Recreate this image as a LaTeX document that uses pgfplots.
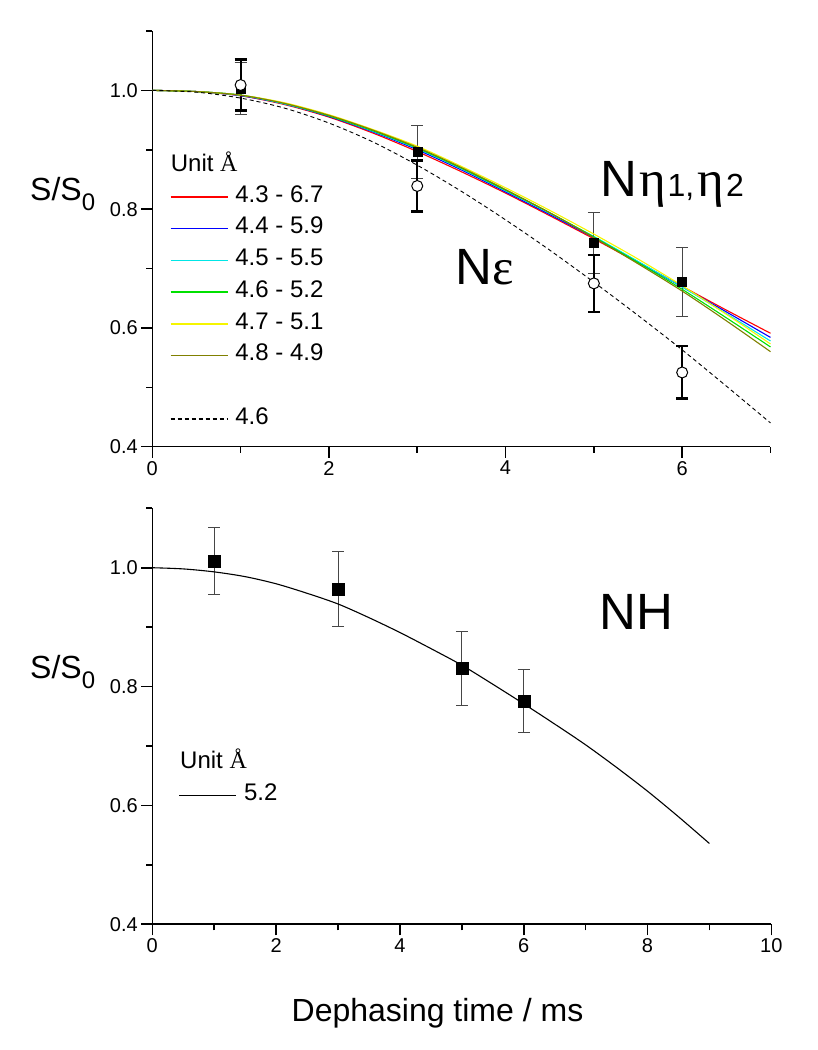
\documentclass[border=0pt]{standalone}
\usepackage{pgfplots}
\pgfplotsset{compat=1.18}
\usepackage{fontspec}
\setmainfont{Liberation Sans}
\newfontfamily\serifgr{Liberation Serif}
\definecolor{cRed}{RGB}{255,0,0}
\definecolor{cBlue}{RGB}{0,0,255}
\definecolor{cCyan}{RGB}{0,230,230}
\definecolor{cGreen}{RGB}{0,225,0}
\definecolor{cYellow}{RGB}{245,245,0}
\definecolor{cOlive}{RGB}{128,128,0}
\definecolor{barGray}{RGB}{70,70,70}
\pgfplotsset{
  myax/.style={
    scale only axis,
    axis x line*=bottom, axis y line*=left,
    axis line style={line width=1.6pt,-},
    tick style={line width=1.6pt,black},
    tick align=outside,
    major tick length=11pt, minor tick length=6pt,
    ymin=0.4, ymax=1.1,
    ytick={0.4,0.6,0.8,1.0},
    minor ytick={0.5,0.7,0.9,1.1},
    ticklabel style={font=\fontsize{20}{24}\selectfont},
    /pgf/number format/assume math mode=true,
    yticklabel style={/pgf/number format/fixed,/pgf/number format/fixed zerofill,/pgf/number format/precision=1},
    clip=false,
    legend cell align=left,
    legend image code/.code={\draw[##1, line width=1.4pt] (0pt,0pt) -- (57pt,0pt);},
    legend style={draw=none, fill=none, inner sep=0pt, outer sep=0pt, row sep=0pt, column sep=7pt,
      font=\fontsize{24}{28}\selectfont, anchor=north west,
      nodes={inner sep=0pt, text height=21pt, text depth=10.7pt}},
  },
  sqbar/.style={only marks, mark=square*, mark size=#1, black, forget plot,
    error bars/.cd, y dir=both, y explicit,
    error bar style={line width=1pt, barGray},
    error mark options={rotate=90, line width=1pt, barGray, mark size=6pt}},
  cibar/.style={only marks, mark=*, mark size=5.5pt, mark options={fill=white, draw=black, line width=1pt}, black, forget plot,
    error bars/.cd, y dir=both, y explicit,
    error bar style={line width=2.2pt, black},
    error mark options={rotate=90, line width=2.2pt, black, mark size=6pt}},
}
\begin{document}
\begin{tikzpicture}[x=1pt,y=1pt]
% ---------------- top panel ----------------
\begin{axis}[myax, at={(152.3pt,603.3pt)}, anchor=south west,
  width=618.2pt, height=415.7pt,
  xmin=0, xmax=7, xtick={0,2,4,6}, minor xtick={1,3,5,7},
  legend style={at={(axis cs:0.2,0.847)}}]
\addplot[sqbar=4.5pt] table[y error=e]{
x y e
1 1.003 0.044
3 0.896 0.045
5 0.743 0.051
6 0.678 0.058
};
\addplot[cibar] table[y error=e]{
x y e
1 1.009 0.043
3 0.839 0.043
5 0.675 0.048
6 0.525 0.044
};
\addplot[cRed, line width=1.1pt, smooth] coordinates {(0,1.000)(0.5,0.998)(1,0.991)(1.5,0.976)(2,0.955)(2.5,0.928)(3,0.897)(3.5,0.863)(4,0.827)(4.5,0.789)(5,0.750)(5.5,0.710)(6,0.670)(6.5,0.630)(7,0.591)};
\addlegendentry{4.3 - 6.7}
\addplot[cBlue, line width=1.1pt, smooth] coordinates {(0,1.000)(0.5,0.998)(1,0.991)(1.5,0.977)(2,0.956)(2.5,0.930)(3,0.900)(3.5,0.866)(4,0.829)(4.5,0.791)(5,0.752)(5.5,0.711)(6,0.669)(6.5,0.627)(7,0.584)};
\addlegendentry{4.4 - 5.9}
\addplot[cCyan, line width=1.1pt, smooth] coordinates {(0,1.000)(0.5,0.998)(1,0.992)(1.5,0.977)(2,0.957)(2.5,0.931)(3,0.902)(3.5,0.868)(4,0.831)(4.5,0.793)(5,0.754)(5.5,0.712)(6,0.669)(6.5,0.624)(7,0.578)};
\addlegendentry{4.5 - 5.5}
\addplot[cGreen, line width=1.1pt, smooth] coordinates {(0,1.000)(0.5,0.998)(1,0.992)(1.5,0.978)(2,0.957)(2.5,0.932)(3,0.903)(3.5,0.869)(4,0.832)(4.5,0.794)(5,0.753)(5.5,0.710)(6,0.665)(6.5,0.617)(7,0.568)};
\addlegendentry{4.6 - 5.2}
\addplot[cYellow, line width=1.1pt, smooth] coordinates {(0,1.000)(0.5,0.998)(1,0.992)(1.5,0.979)(2,0.959)(2.5,0.934)(3,0.906)(3.5,0.872)(4,0.836)(4.5,0.798)(5,0.758)(5.5,0.716)(6,0.671)(6.5,0.623)(7,0.573)};
\addlegendentry{4.7 - 5.1}
\addplot[cOlive, line width=1.1pt, smooth] coordinates {(0,1.000)(0.5,0.998)(1,0.992)(1.5,0.978)(2,0.958)(2.5,0.933)(3,0.904)(3.5,0.870)(4,0.833)(4.5,0.794)(5,0.752)(5.5,0.708)(6,0.662)(6.5,0.612)(7,0.560)};
\addlegendentry{4.8 - 4.9}
\addlegendimage{empty legend}
\addlegendentry{\phantom{4}}
\addplot[black, line width=0.9pt, dash pattern=on 4pt off 3pt, smooth] coordinates {(0,1.000)(0.5,0.997)(1,0.987)(1.5,0.970)(2,0.945)(2.5,0.913)(3,0.874)(3.5,0.830)(4,0.782)(4.5,0.731)(5,0.677)(5.5,0.621)(6,0.563)(6.5,0.502)(7,0.440)};
\addlegendentry{4.6}
\end{axis}
% ---------------- bottom panel ----------------
\begin{axis}[myax, at={(152.3pt,125.7pt)}, anchor=south west,
  width=619pt, height=416pt,
  xmin=0, xmax=10, xtick={0,2,4,6,8,10}, minor xtick={1,3,5,7,9},
  legend style={at={(axis cs:0.4265,0.643)}}]
\addplot[sqbar=6pt] table[y error=e]{
x y e
1 1.011 0.056
3 0.964 0.063
5 0.831 0.062
6 0.776 0.053
};
\addplot[black, line width=1.1pt, smooth] coordinates {(0,1.000)(0.5,0.998)(1,0.993)(1.5,0.985)(2,0.973)(2.5,0.957)(3,0.939)(3.5,0.916)(4,0.891)(4.5,0.864)(5,0.836)(5.5,0.804)(6,0.771)(6.5,0.737)(7,0.702)(7.5,0.664)(8,0.624)(8.5,0.581)(9,0.536)};
\addlegendentry{5.2}
\end{axis}
% ---------------- text ----------------
\node[anchor=base west, inner sep=0pt, font=\fontsize{24}{28}\selectfont] at (170.7,878.3) {Unit {\serifgr Å}};
\node[anchor=base west, inner sep=0pt, font=\fontsize{24}{28}\selectfont] at (180,281.7) {Unit {\serifgr Å}};
\node[anchor=base west, inner sep=0pt, font=\fontsize{51}{56}\selectfont] at (600,853) {N\hspace{2pt}{\serifgr η}\hspace{2pt}{\fontsize{32}{36}\selectfont 1,}\hspace{3pt}{\serifgr η}\hspace{2pt}{\fontsize{32}{36}\selectfont 2}};
\node[anchor=base west, inner sep=0pt, font=\fontsize{51}{56}\selectfont] at (455,765) {N{\serifgr ε}};
\node[anchor=base west, inner sep=0pt, font=\fontsize{51}{56}\selectfont] at (599,420) {NH};
\node[anchor=base west, inner sep=0pt, font=\fontsize{32}{36}\selectfont] at (30,849) {S/S\raisebox{-0.3em}{\fontsize{24}{28}\selectfont 0}};
\node[anchor=base west, inner sep=0pt, font=\fontsize{32}{36}\selectfont] at (30,371) {S/S\raisebox{-0.3em}{\fontsize{24}{28}\selectfont 0}};
\node[anchor=base, inner sep=0pt, font=\fontsize{32}{36}\selectfont] at (437.5,28) {Dephasing time / ms};
\pgfresetboundingbox
\path[use as bounding box] (0,0) rectangle (818,1050);
\end{tikzpicture}
\end{document}
